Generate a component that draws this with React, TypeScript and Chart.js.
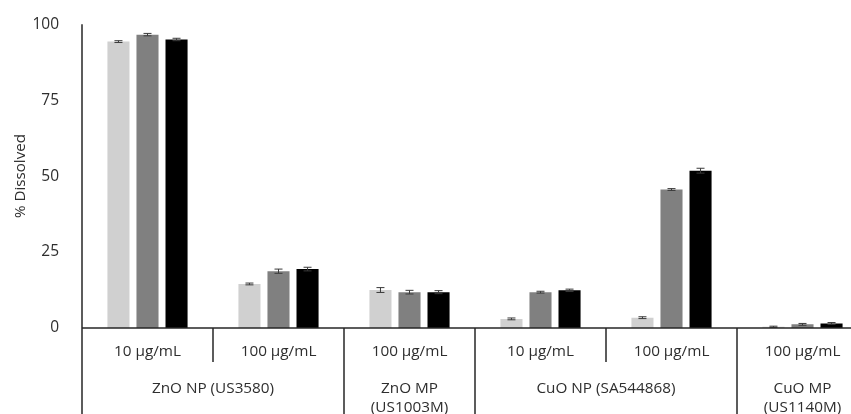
import React, { useEffect, useRef } from "react";
import { Chart, registerables } from "chart.js";
Chart.register(...registerables);

const concentrations = ["10 µg/mL", "100 µg/mL", "100 µg/mL", "10 µg/mL", "100 µg/mL", "100 µg/mL"];
const materialLabels = [["ZnO NP (US3580)"], ["ZnO MP", "(US1003M)"], ["CuO NP (SA544868)"], ["CuO MP", "(US1140M)"]];
const materialSpans = [2, 1, 2, 1];

const seriesNames = ["Series 1", "Series 2", "Series 3"];
const seriesColors = ["#D0D0D0", "#808080", "#000000"];
const values1 = [94.3, 14.5, 12.5, 3.0, 3.4, 0.4];
const values2 = [96.6, 18.7, 11.8, 11.8, 45.6, 1.2];
const values3 = [95.0, 19.4, 11.8, 12.4, 51.8, 1.5];
const errors1 = [0.3, 0.3, 0.8, 0.3, 0.3, 0.2];
const errors2 = [0.4, 0.7, 0.6, 0.3, 0.3, 0.3];
const errors3 = [0.4, 0.6, 0.5, 0.4, 0.8, 0.3];

const yTicks = [0, 25, 50, 75, 100];
const yTitle = "% Dissolved";

const FONT = "'Open Sans', sans-serif";
const TEXT = "#2e2e2e";
const LINE = "#262626";

export default function App() {
  const ref = useRef<HTMLCanvasElement | null>(null);
  useEffect(() => {
    const canvas = ref.current;
    if (!canvas) return;
    const allValues = [values1, values2, values3];
    const allErrors = [errors1, errors2, errors3];

    const customPlugin = {
      id: "custom",
      afterDatasetsDraw(chart: any) {
        const ctx = chart.ctx;
        const y = chart.scales.y;
        ctx.save();
        ctx.strokeStyle = "#3a3a3a";
        ctx.lineWidth = 1;
        chart.data.datasets.forEach((ds: any, di: number) => {
          const meta = chart.getDatasetMeta(di);
          meta.data.forEach((bar: any, i: number) => {
            const v = allValues[di][i];
            const e = allErrors[di][i];
            const top = y.getPixelForValue(v + e);
            const bot = y.getPixelForValue(Math.max(0, v - e));
            const x = bar.x;
            ctx.beginPath();
            ctx.moveTo(x, top);
            ctx.lineTo(x, bot);
            ctx.moveTo(x - 4, top);
            ctx.lineTo(x + 4, top);
            ctx.moveTo(x - 4, bot);
            ctx.lineTo(x + 4, bot);
            ctx.stroke();
          });
        });
        ctx.restore();
      },
      afterDraw(chart: any) {
        const ctx = chart.ctx;
        const area = chart.chartArea;
        const n = concentrations.length;
        const cw = (area.right - area.left) / n;
        const y0 = chart.scales.y.getPixelForValue(0);
        const H = chart.height;
        ctx.save();
        ctx.strokeStyle = LINE;
        ctx.lineWidth = 1.5;
        ctx.beginPath();
        ctx.moveTo(area.left, y0);
        ctx.lineTo(area.right, y0);
        ctx.stroke();
        ctx.beginPath();
        ctx.moveTo(area.left, area.top);
        ctx.lineTo(area.left, H);
        ctx.stroke();
        let idx = 0;
        const groupBounds: number[] = [0];
        materialSpans.forEach((s) => {
          idx += s;
          groupBounds.push(idx);
        });
        for (let b = 1; b <= n; b++) {
          const x = area.left + b * cw;
          const full = groupBounds.includes(b);
          ctx.beginPath();
          ctx.moveTo(x, y0);
          ctx.lineTo(x, full ? H : y0 + 34);
          ctx.stroke();
        }
        ctx.fillStyle = TEXT;
        ctx.font = `15.3px ${FONT}`;
        ctx.textAlign = "center";
        ctx.textBaseline = "middle";
        concentrations.forEach((c, i) => {
          ctx.fillText(c, area.left + (i + 0.5) * cw, y0 + 24);
        });
        materialLabels.forEach((lines, gi) => {
          const start = groupBounds[gi];
          const end = groupBounds[gi + 1];
          const cx = area.left + ((start + end) / 2) * cw;
          lines.forEach((t, li) => {
            ctx.fillText(t, cx, y0 + 61 + li * 19);
          });
        });
        ctx.font = `15.2px ${FONT}`;
        ctx.translate(21, 176);
        ctx.rotate(-Math.PI / 2);
        ctx.fillText(yTitle, 0, 0);
        ctx.restore();
      },
    };

    const chart = new Chart(canvas, {
      type: "bar",
      data: {
        labels: concentrations,
        datasets: seriesNames.map((name, i) => ({
          label: name,
          data: allValues[i],
          backgroundColor: seriesColors[i],
          borderWidth: 0,
          categoryPercentage: 0.665,
          barPercentage: 0.76,
        })),
      },
      options: {
        animation: false,
        responsive: false,
        layout: { padding: { top: 24, bottom: 86, left: 0, right: 0 } },
        plugins: { legend: { display: false }, tooltip: { enabled: false } },
        scales: {
          x: { display: false },
          y: {
            min: 0,
            max: 100,
            afterFit: (scale: any) => {
              scale.width = 82;
            },
            afterBuildTicks: (scale: any) => {
              scale.ticks = yTicks.map((v) => ({ value: v }));
            },
            grid: { display: false },
            border: { display: false },
            ticks: {
              padding: 15,
              color: TEXT,
              font: { family: FONT, size: 15.5 },
            },
          },
        },
      },
      plugins: [customPlugin],
    });
    return () => chart.destroy();
  }, []);

  return (
    <div style={{ position: "absolute", left: 0, top: 0, width: 851, height: 414, overflow: "hidden", background: "#fff" }}>
      <canvas ref={ref} width={868} height={414} style={{ width: 868, height: 414, display: "block" }} />
    </div>
  );
}
